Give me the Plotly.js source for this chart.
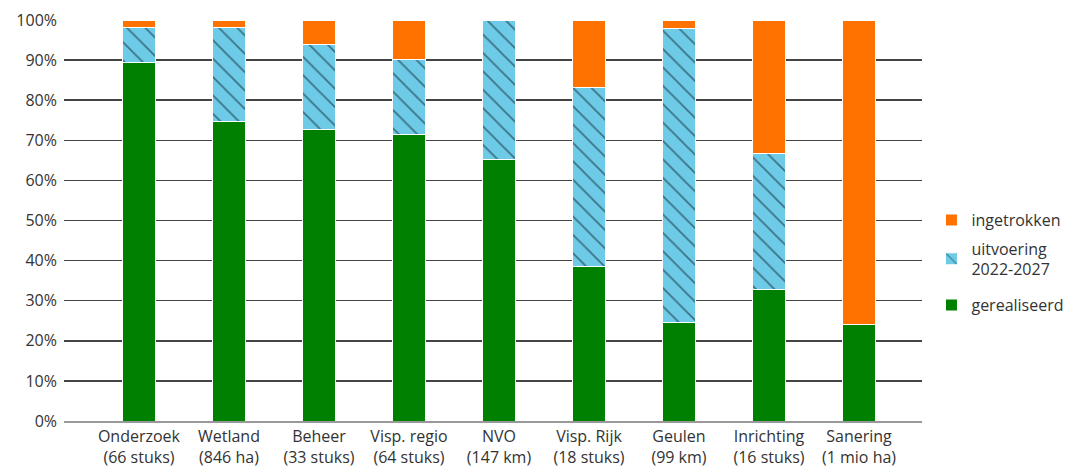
<!DOCTYPE html>
<html>
<head>
<meta charset="utf-8">
<script src="https://cdn.plot.ly/plotly-3.0.1.min.js"></script>
<style>html,body{margin:0;padding:0;background:#fff}#chart{width:1072px;height:469px}</style>
</head>
<body>
<div id="chart"></div>
<script>
const categories = ["Onderzoek<br>(66 stuks)", "Wetland<br>(846 ha)", "Beheer<br>(33 stuks)", "Visp. regio<br>(64 stuks)", "NVO<br>(147 km)", "Visp. Rijk<br>(18 stuks)", "Geulen<br>(99 km)", "Inrichting<br>(16 stuks)", "Sanering<br>(1 mio ha)"];
const gerealiseerd = [89.3, 74.6, 72.7, 71.5, 65.3, 38.5, 24.5, 32.9, 24.0];
const uitvoering = [8.8, 23.6, 21.2, 18.6, 34.7, 44.7, 73.5, 33.7, 0];
const ingetrokken = [1.9, 1.8, 6.1, 9.9, 0, 16.8, 2.0, 33.4, 76.0];
const seriesNames = ["gerealiseerd", "uitvoering<br>2022-2027", "ingetrokken"];
const yTicks = [0,10,20,30,40,50,60,70,80,90,100];
const yTickText = yTicks.map(v => v + "%");

const xIdx = categories.map((c,i) => i);
const fam = "'Open Sans', sans-serif";
const font = {family: fam, size: 16, color: "#333"};
const barW = 0.36;
const traces = [
  {type:"bar", name: seriesNames[0], x: xIdx, y: gerealiseerd, width: barW, legend:"legend3",
   marker:{color:"#008000", line:{color:"#ffffff", width:1}}},
  {type:"bar", name: seriesNames[1], x: xIdx, y: uitvoering, width: barW, legend:"legend2",
   marker:{color:"#6ecbe8", line:{color:"#ffffff", width:1},
     pattern:{shape:"\\", fgcolor:"#0a1a22", bgcolor:"#6ecbe8", size:13, solidity:0.14, fillmode:"overlay"}}},
  {type:"bar", name: seriesNames[2], x: xIdx, y: ingetrokken, width: barW, legend:"legend",
   marker:{color:"#ff7200", line:{color:"#ffffff", width:1}}}
];
const legBase = {x:1.011, xanchor:"left", yanchor:"middle", font:{family:fam, size:16, color:"#333"}, itemwidth:30, bgcolor:"rgba(0,0,0,0)"};
const layout = {
  width:1072, height:469,
  margin:{l:64, r:150, t:20, b:48, autoexpand:false},
  barmode:"stack",
  paper_bgcolor:"#fff", plot_bgcolor:"#fff",
  font: font,
  showlegend:true,
  legend: Object.assign({}, legBase, {y:0.501}),
  legend2: Object.assign({}, legBase, {y:0.404}),
  legend3: Object.assign({}, legBase, {y:0.289}),
  xaxis:{range:[-0.833, 8.7], tickvals:xIdx, ticktext:categories, showgrid:false, zeroline:false,
    showline:true, linecolor:"#999", linewidth:2, ticks:"", tickfont:font, fixedrange:true},
  yaxis:{range:[0,100], tickvals:yTicks, ticktext:yTickText, showgrid:true, gridcolor:"#444", gridwidth:1.5,
    zeroline:false, showline:false, ticks:"", tickfont:font, ticklabelstandoff:6, fixedrange:true}
};
Plotly.newPlot("chart", traces, layout, {displayModeBar:false, staticPlot:true});
</script>
</body>
</html>
